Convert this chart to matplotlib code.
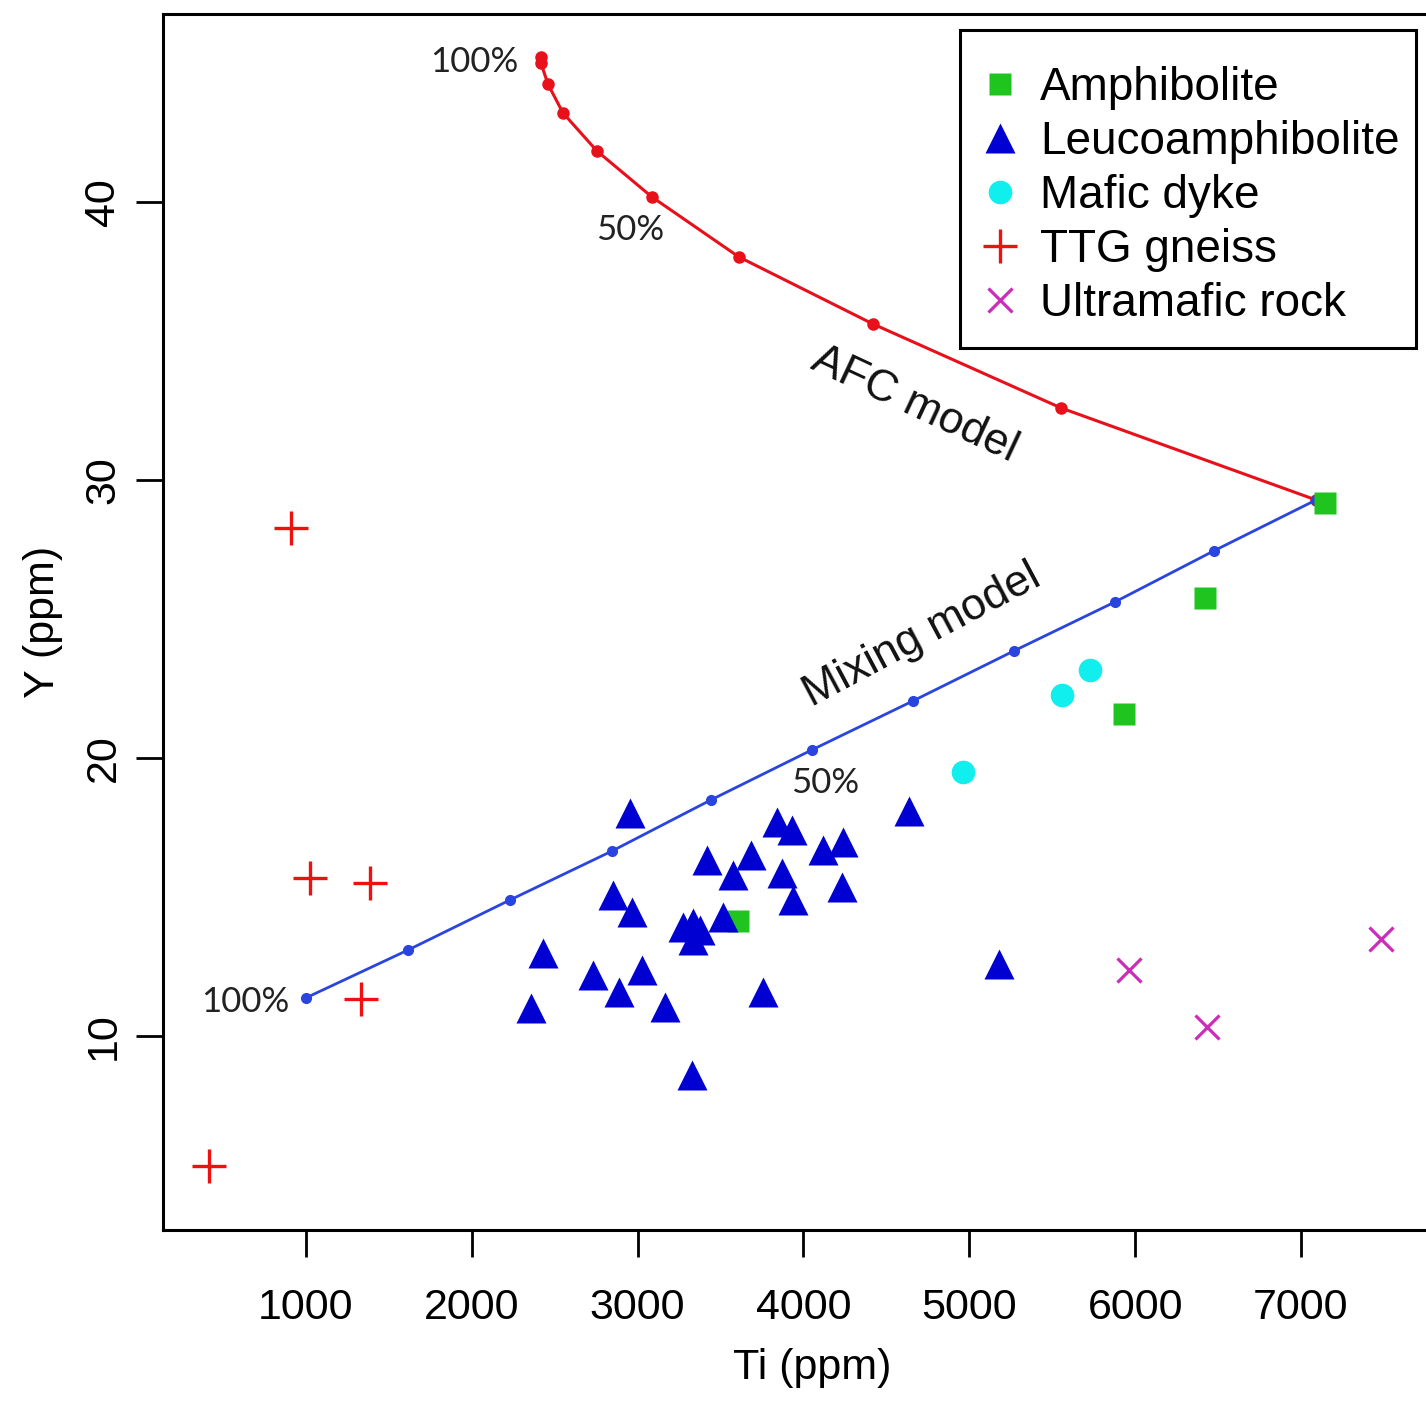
import matplotlib
matplotlib.use("Agg")
import matplotlib.pyplot as plt
from matplotlib.lines import Line2D
from matplotlib.patches import Rectangle

plt.rcParams['font.family'] = ['Liberation Sans', 'DejaVu Sans']

# --- Sample data: Ti (ppm) vs Y (ppm) ---
amph_ti = [7145, 6421, 5933, 3605]
amph_y = [29.17, 25.76, 21.58, 14.14]

leuco_ti = [2954, 3840, 3931, 3418, 3683, 3575, 3870, 4118, 4238, 4232,
            2851, 2966, 3937, 3515, 3273, 3334, 3376, 3334, 2429, 2731,
            3026, 2888, 3165, 2357, 3756, 3328, 4636, 5179]
leuco_y = [18.02, 17.70, 17.41, 16.33, 16.51, 15.79, 15.86, 16.69, 16.98, 15.36,
           15.07, 14.46, 14.89, 14.28, 13.92, 14.06, 13.81, 13.45, 12.99, 12.19,
           12.37, 11.58, 11.04, 11.01, 11.58, 8.60, 18.09, 12.59]

dyke_ti = [5728, 5559, 4962]
dyke_y = [23.17, 22.27, 19.50]

ttg_ti = [910, 1024, 1386, 1332, 415]
ttg_y = [28.27, 15.68, 15.50, 11.33, 5.32]

ultra_ti = [5963, 6433, 7483]
ultra_y = [12.37, 10.32, 13.49]

# --- Model curves (10 % steps) ---
afc_ti = [2417, 2417, 2459, 2550, 2755, 3086, 3611, 4419, 5553, 7091]
afc_y = [45.22, 45.00, 44.24, 43.20, 41.83, 40.18, 38.02, 35.61, 32.59, 29.28]

mix_ti = [1000, 1615, 2230, 2845, 3442, 4051, 4660, 5269, 5878, 6475, 7091]
mix_y = [11.37, 13.09, 14.89, 16.65, 18.49, 20.29, 22.05, 23.85, 25.61, 27.45, 29.28]

x_ticks = [1000, 2000, 3000, 4000, 5000, 6000, 7000]
y_ticks = [10, 20, 30, 40]

W, H = 1426, 1404
AX_L, AX_R, AX_T, AX_B = 163, 1461, 14, 1230
fig = plt.figure(figsize=(W / 100, H / 100), dpi=100)
ax = fig.add_axes([AX_L / W, 1 - AX_B / H, (AX_R - AX_L) / W, (AX_B - AX_T) / H])
ax.set_xlim(138, 7965)
ax.set_ylim(3.02, 46.76)

c_green = '#1fc41f'
c_blue = '#0000d2'
c_cyan = '#10eeee'
c_red = '#f01010'
c_mag = '#cc2cba'

# model curves
ax.plot(afc_ti, afc_y, '-', color='#e8101a', lw=2.2, marker='o', ms=8,
        mec='#e8101a', mfc='#e8101a', zorder=2)
ax.plot(mix_ti, mix_y, '-', color='#2a44e0', lw=2.0, marker='o', ms=7,
        mec='#2a44e0', mfc='#2a44e0', zorder=2)

# samples
ax.plot(amph_ti, amph_y, 's', color=c_green, ms=16, mec='none', zorder=3)
ax.plot(leuco_ti, leuco_y, '^', color=c_blue, ms=21, mec='none', zorder=4)
ax.plot(dyke_ti, dyke_y, 'o', color=c_cyan, ms=17, mec='none', zorder=3)
ax.plot(ttg_ti, ttg_y, '+', color=c_red, ms=25, mew=2.4, zorder=3)
ax.plot(ultra_ti, ultra_y, 'x', color=c_mag, ms=17, mew=2.3, zorder=3)

# curve annotations
lab_font = dict(family=['Lato', 'DejaVu Sans'], fontsize=25, color='#222222')
ax.text(2278, 45.04, '100%', ha='right', va='center', **lab_font)
ax.text(2954, 39.0, '50%', ha='center', va='center', **lab_font)
ax.text(903, 11.22, '100%', ha='right', va='center', **lab_font)
ax.text(4130, 19.1, '50%', ha='center', va='center', **lab_font)
ax.text(4672, 32.7, 'AFC model', rotation=-25, ha='center', va='center',
        fontsize=32, color='#111111', rotation_mode='anchor')
ax.text(4715, 24.42, 'Mixing model', rotation=28, ha='center', va='center',
        fontsize=32, color='#111111', rotation_mode='anchor')

# axes styling
for s in ax.spines.values():
    s.set_linewidth(2.2)
ax.set_xticks(x_ticks)
ax.set_xticklabels([str(v) for v in x_ticks], fontsize=31)
ax.set_yticks(y_ticks)
ax.set_yticklabels([str(v) for v in y_ticks], fontsize=31, rotation=90,
                   va='center')
ax.tick_params(axis='both', length=19.5, width=2.0, direction='out')
ax.tick_params(axis='x', pad=22)
ax.tick_params(axis='y', pad=9)
ax.set_xlabel('Ti (ppm)', fontsize=31, labelpad=15)
ax.set_ylabel('Y (ppm)', fontsize=31, labelpad=15)


def ax_frac(px, py):
    """Pixel position in the figure -> axes fraction."""
    return ((px - AX_L) / (AX_R - AX_L), (AX_B - py) / (AX_B - AX_T))


# legend (entries without frame, box drawn separately)
handles = [
    Line2D([], [], ls='none', marker='s', color=c_green, ms=16, mec='none'),
    Line2D([], [], ls='none', marker='^', color=c_blue, ms=21, mec='none'),
    Line2D([], [], ls='none', marker='o', color=c_cyan, ms=17, mec='none'),
    Line2D([], [], ls='none', marker='+', color=c_red, ms=24, mew=2.4),
    Line2D([], [], ls='none', marker='x', color=c_mag, ms=17, mew=2.3),
]
labels = ['Amphibolite', 'Leucoamphibolite', 'Mafic dyke', 'TTG gneiss',
          'Ultramafic rock']
leg = ax.legend(handles, labels, loc='upper left',
                bbox_to_anchor=ax_frac(977, 66),
                bbox_transform=ax.transAxes, borderaxespad=0, borderpad=0,
                fontsize=33, handlelength=1.0, handletextpad=0.37,
                labelspacing=0.22, frameon=False)
x0, y1 = ax_frac(960, 30)
x1, y0 = ax_frac(1416, 348)
ax.add_patch(Rectangle((x0, y0), x1 - x0, y1 - y0, transform=ax.transAxes,
                       fill=True, facecolor='white', edgecolor='black',
                       lw=2.2, zorder=5))
leg.set_zorder(6)

fig.savefig('out.png', dpi=100)
